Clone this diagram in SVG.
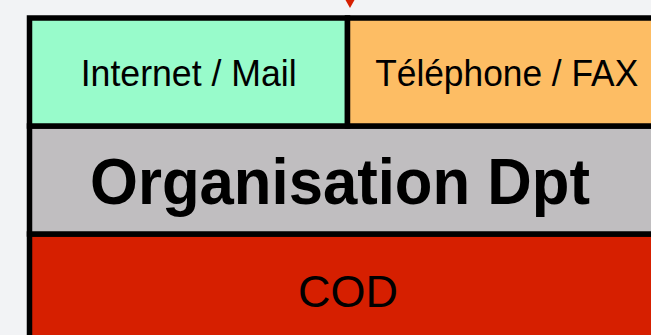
<svg xmlns="http://www.w3.org/2000/svg" width="651" height="335" viewBox="0 0 651 335">
<style>
.cell{stroke:#000;stroke-width:5.5}
.t{font-family:"Liberation Sans",Arial,Helvetica,sans-serif;fill:#000;text-anchor:middle}
.n{font-size:37px}
.b{font-size:64px;font-weight:bold}
</style>
<rect width="651" height="335" fill="#f2f3f5"/>
<g id="cod">
<rect class="cell" x="29.5" y="234" width="636" height="120" fill="#d61f00"/>
<text class="t" x="348" y="307" font-size="45px" textLength="100" lengthAdjust="spacingAndGlyphs">COD</text>
</g>
<g id="organisation">
<rect class="cell" x="29.5" y="126" width="636" height="108" fill="#c0bec0"/>
<text class="t b" x="340" y="204" textLength="500" lengthAdjust="spacingAndGlyphs">Organisation Dpt</text>
</g>
<g id="internet">
<rect class="cell" x="29.5" y="18" width="318" height="108" fill="#98fbcb"/>
<text class="t n" x="188.7" y="86" textLength="216" lengthAdjust="spacingAndGlyphs">Internet / Mail</text>
</g>
<g id="telephone">
<rect class="cell" x="347.5" y="18" width="318" height="108" fill="#fdbd64"/>
<text class="t n" x="506.7" y="86" textLength="263" lengthAdjust="spacingAndGlyphs">Téléphone / FAX</text>
</g>
<g id="connectors">
<path d="M345.5,0 L354.5,0 L350,8 Z" fill="#d61f00"/>
</g>
</svg>
